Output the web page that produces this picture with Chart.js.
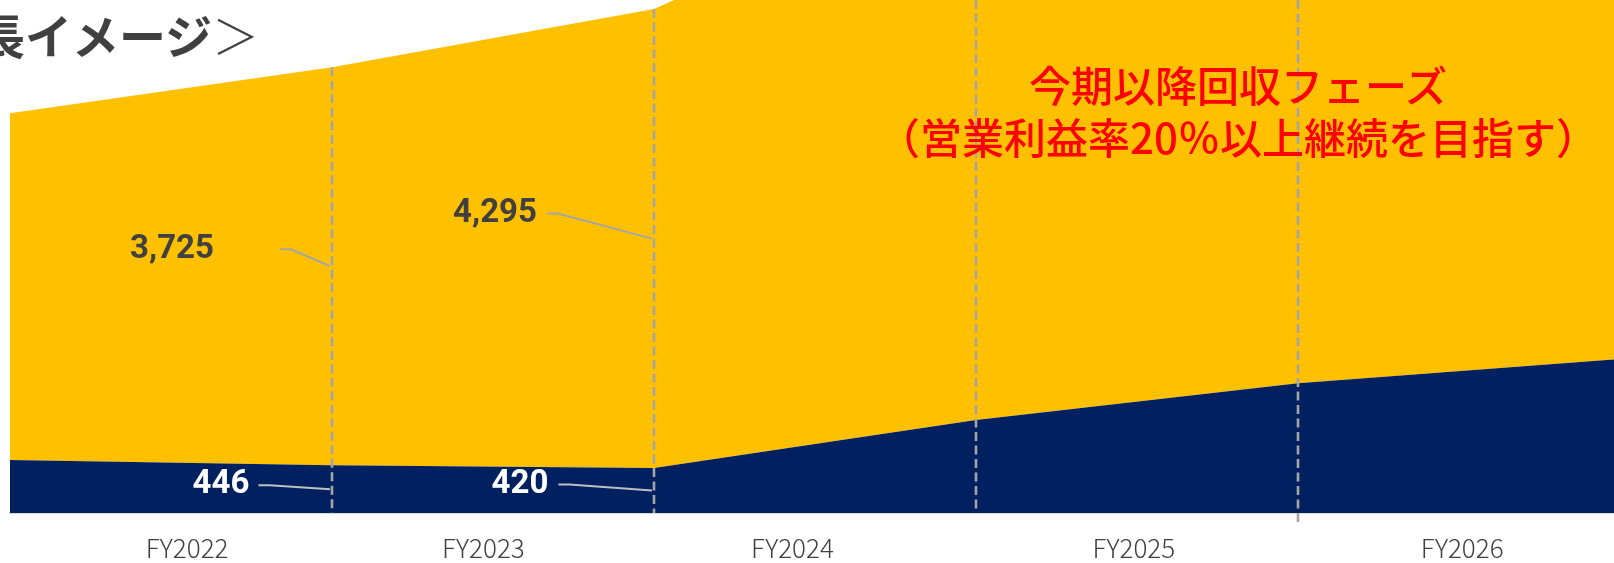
<!DOCTYPE html>
<html>
<head>
    <meta charset="UTF-8">
    <script src="https://cdn.jsdelivr.net/npm/chart.js"></script>
    <style>
        html, body { margin: 0; padding: 0; background: #fff; overflow: hidden; }
        .wrap { position: relative; width: 1620px; height: 563px; }
        .chart-container { position: absolute; left: 0; top: 0; width: 1620px; height: 563px; }
        .title {
            position: absolute; right: calc(1620px - 259px); top: 9px;
            white-space: nowrap; font-family: "Noto Sans CJK JP", sans-serif;
            font-weight: bold; font-size: 47px; line-height: 50px; color: #404040;
        }
        .title .thin { font-weight: 300; }
        .note {
            position: absolute; left: 838px; width: 800px; top: 58px; text-align: center;
            font-family: "Noto Sans CJK JP", sans-serif; font-weight: 500;
            font-size: 42px; line-height: 52px; color: #ff0000;
        }
    </style>
</head>
<body>
<div class="wrap">
    <div class="chart-container">
        <canvas id="growthChart"></canvas>
    </div>
    <div class="title">＜中期経営計画の成長イメージ<span class="thin">＞</span></div>
    <div class="note">今期以降回収フェーズ<br>（営業利益率20％以上継続を目指す）</div>
</div>

<script>
    // values at each period boundary (index 0..5)
    const periodEnds = ['FY2021', 'FY2022', 'FY2023', 'FY2024', 'FY2025', 'FY2026'];
    const profitValues = [496, 446, 420, 870, 1215, 1440];
    const costValues = [3244, 3725, 4295, 5200, 5900, 6600];

    // x axis labels and where they sit
    const fyLabels = ['FY2022', 'FY2023', 'FY2024', 'FY2025', 'FY2026'];
    const fyTickSpots = [0.55, 1.47, 2.43, 3.49, 4.51];

    // which points get a value label
    const labelledPoints = [1, 2];

    const NAVY = '#002060';
    const YELLOW = '#FFC000';

    // label placement relative to the middle of each band: [dx, dy, gap before leader]
    const labelOffsets = {
        '1-1': [-160, -17, 66], '1-2': [-159, -25, 10],
        '0-1': [-111, -4, 9], '0-2': [-134, -6, 10]
    };

    const dropLines = {
        id: 'dropLines',
        afterDatasetsDraw(chart) {
            const ctx = chart.ctx;
            const xs = chart.scales.x, ys = chart.scales.y;
            const area = chart.chartArea;
            ctx.save();
            ctx.strokeStyle = '#a5a5a5';
            ctx.lineWidth = 2.6;
            ctx.setLineDash([9, 4.5]);
            for (let i = 1; i < periodEnds.length - 1; i++) {
                const x = Math.round(xs.getPixelForValue(i));
                const top = Math.max(area.top, ys.getPixelForValue(profitValues[i] + costValues[i]));
                const bottom = area.bottom + (i === periodEnds.length - 2 ? 11 : 0);
                ctx.beginPath();
                ctx.moveTo(x, top);
                ctx.lineTo(x, bottom);
                ctx.stroke();
            }
            ctx.restore();
        }
    };

    const valueLabels = {
        id: 'valueLabels',
        afterDatasetsDraw(chart) {
            const ctx = chart.ctx;
            const xs = chart.scales.x, ys = chart.scales.y;
            ctx.save();
            ctx.font = 'bold 33px Roboto';
            ctx.textAlign = 'center';
            ctx.textBaseline = 'middle';
            labelledPoints.forEach(i => {
                const bands = [
                    { ds: 0, lo: 0, hi: profitValues[i], val: profitValues[i], color: '#ffffff', line: '#bfbfbf' },
                    { ds: 1, lo: profitValues[i], hi: profitValues[i] + costValues[i], val: costValues[i], color: '#404040', line: '#a6a6a6' }
                ];
                bands.forEach(b => {
                    const px = xs.getPixelForValue(i);
                    const py = (ys.getPixelForValue(b.lo) + ys.getPixelForValue(b.hi)) / 2;
                    const off = labelOffsets[b.ds + '-' + i];
                    const lx = px + off[0], ly = py + off[1];
                    const text = b.val.toLocaleString('en-US');
                    const w = ctx.measureText(text).width;
                    ctx.fillStyle = b.color;
                    ctx.fillText(text, lx, ly);
                    ctx.strokeStyle = b.line;
                    ctx.lineWidth = 2;
                    ctx.beginPath();
                    ctx.moveTo(lx + w / 2 + off[2], ly);
                    ctx.lineTo(lx + w / 2 + off[2] + 11, ly);
                    ctx.lineTo(px - 2, py);
                    ctx.stroke();
                });
            });
            ctx.restore();
        }
    };

    document.addEventListener('DOMContentLoaded', function() {
        const ctx = document.getElementById('growthChart').getContext('2d');
        new Chart(ctx, {
            type: 'line',
            data: {
                datasets: [{
                    label: '営業利益',
                    data: profitValues.map((v, i) => ({ x: i, y: v })),
                    backgroundColor: NAVY,
                    borderWidth: 0,
                    pointRadius: 0,
                    fill: 'origin'
                }, {
                    label: 'その他',
                    data: costValues.map((v, i) => ({ x: i, y: v })),
                    backgroundColor: YELLOW,
                    borderWidth: 0,
                    pointRadius: 0,
                    fill: '-1'
                }]
            },
            options: {
                responsive: true,
                maintainAspectRatio: false,
                animation: false,
                layout: { padding: { left: 10, top: 0, right: 0, bottom: 0 } },
                plugins: {
                    legend: { display: false },
                    tooltip: { enabled: false }
                },
                scales: {
                    x: {
                        type: 'linear',
                        min: 0,
                        max: periodEnds.length - 1,
                        z: 1,
                        afterBuildTicks: s => { s.ticks = fyTickSpots.map(v => ({ value: v })); },
                        afterFit: s => { s.height = 50; },
                        grid: { display: false, drawTicks: false },
                        border: { display: true, color: '#d9d9d9', width: 2 },
                        ticks: {
                            autoSkip: false,
                            maxRotation: 0,
                            padding: 20,
                            color: '#404040',
                            font: { family: '"Noto Sans CJK JP"', size: 26, weight: 300 },
                            callback: (v, i) => fyLabels[i]
                        }
                    },
                    y: {
                        display: false,
                        stacked: true,
                        min: 0,
                        max: 4800
                    }
                }
            },
            plugins: [dropLines, valueLabels]
        });
    });
</script>
</body>
</html>
